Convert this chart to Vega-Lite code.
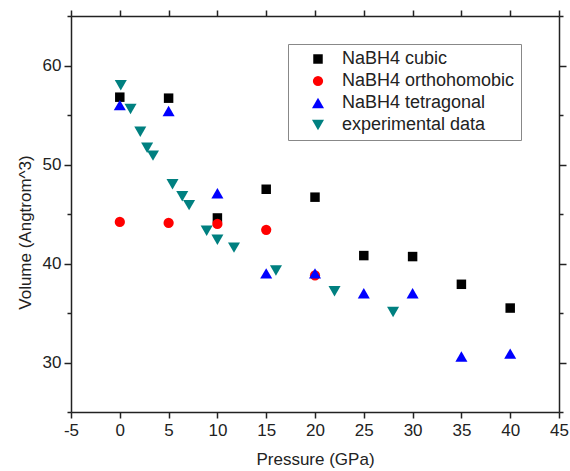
{
  "$schema": "https://vega.github.io/schema/vega-lite/v6.json",
  "width": 488,
  "height": 396,
  "autosize": {"type": "none"},
  "padding": {"left": 71, "top": 16, "right": 11, "bottom": 59},
  "background": "white",
  "config": {
    "font": "Liberation Sans",
    "view": {"stroke": null},
    "axis": {
      "grid": false,
      "domainColor": "#222",
      "domainWidth": 1.5,
      "tickColor": "#222",
      "tickWidth": 1.5,
      "labelColor": "#222",
      "titleColor": "#222",
      "labelFont": "Liberation Sans",
      "titleFont": "Liberation Sans",
      "labelFontSize": 17,
      "titleFontSize": 17,
      "titleFontWeight": "normal"
    },
    "legend": {
      "title": null, "orient": "none", "legendX": 217, "legendY": 28,
      "strokeColor": "#888", "fillColor": "white", "padding": 6,
      "symbolOffset": 15, "labelOffset": 15, "rowPadding": 4,
      "labelFontSize": 18, "labelColor": "#222", "labelFont": "Liberation Sans",
      "labelLimit": 300
    }
  },
  "data": {
    "values": [
      {"p": 0, "v": 56.8, "s": "NaBH4 cubic"},
      {"p": 5, "v": 56.7, "s": "NaBH4 cubic"},
      {"p": 10, "v": 44.6, "s": "NaBH4 cubic"},
      {"p": 15, "v": 47.5, "s": "NaBH4 cubic"},
      {"p": 20, "v": 46.7, "s": "NaBH4 cubic"},
      {"p": 25, "v": 40.8, "s": "NaBH4 cubic"},
      {"p": 30, "v": 40.7, "s": "NaBH4 cubic"},
      {"p": 35, "v": 37.9, "s": "NaBH4 cubic"},
      {"p": 40, "v": 35.5, "s": "NaBH4 cubic"},
      {"p": 0, "v": 44.2, "s": "NaBH4 orthohomobic"},
      {"p": 5, "v": 44.1, "s": "NaBH4 orthohomobic"},
      {"p": 10, "v": 44.0, "s": "NaBH4 orthohomobic"},
      {"p": 15, "v": 43.4, "s": "NaBH4 orthohomobic"},
      {"p": 20, "v": 38.8, "s": "NaBH4 orthohomobic"},
      {"p": 0, "v": 56.0, "s": "NaBH4 tetragonal"},
      {"p": 5, "v": 55.4, "s": "NaBH4 tetragonal"},
      {"p": 10, "v": 47.1, "s": "NaBH4 tetragonal"},
      {"p": 15, "v": 39.0, "s": "NaBH4 tetragonal"},
      {"p": 20, "v": 39.0, "s": "NaBH4 tetragonal"},
      {"p": 25, "v": 37.0, "s": "NaBH4 tetragonal"},
      {"p": 30, "v": 37.0, "s": "NaBH4 tetragonal"},
      {"p": 35, "v": 30.6, "s": "NaBH4 tetragonal"},
      {"p": 40, "v": 30.9, "s": "NaBH4 tetragonal"},
      {"p": 0.1, "v": 58.0, "s": "experimental data"},
      {"p": 1.1, "v": 55.6, "s": "experimental data"},
      {"p": 2.1, "v": 53.3, "s": "experimental data"},
      {"p": 2.8, "v": 51.7, "s": "experimental data"},
      {"p": 3.4, "v": 50.9, "s": "experimental data"},
      {"p": 5.4, "v": 48.0, "s": "experimental data"},
      {"p": 6.4, "v": 46.8, "s": "experimental data"},
      {"p": 7.1, "v": 45.9, "s": "experimental data"},
      {"p": 8.9, "v": 43.3, "s": "experimental data"},
      {"p": 10.0, "v": 42.4, "s": "experimental data"},
      {"p": 11.7, "v": 41.6, "s": "experimental data"},
      {"p": 16.0, "v": 39.3, "s": "experimental data"},
      {"p": 22.0, "v": 37.2, "s": "experimental data"},
      {"p": 28.0, "v": 35.1, "s": "experimental data"}
    ]
  },
  "layer": [
    {
      "mark": {"type": "point", "filled": true, "opacity": 1},
      "encoding": {
        "x": {
          "field": "p", "type": "quantitative",
          "scale": {"domain": [-5, 45], "nice": false, "zero": false},
          "axis": {"orient": "bottom", "title": "Pressure (GPa)", "values": [-5, 0, 5, 10, 15, 20, 25, 30, 35, 40, 45], "labelExpr": "datum.value + ''", "tickSize": 6, "labelPadding": 4, "titlePadding": 13, "labelFlush": false, "labelOverlap": false}
        },
        "y": {
          "field": "v", "type": "quantitative",
          "scale": {"domain": [25, 65], "nice": false, "zero": false},
          "axis": {
            "orient": "left", "title": "Volume (Angtrom^3)",
            "values": [25, 30, 35, 40, 45, 50, 55, 60, 65],
            "labelExpr": "datum.value % 10 === 0 ? datum.label : ''",
            "tickSize": {"condition": {"test": "datum.value % 10 === 0", "value": 7}, "value": 4},
            "labelPadding": 3, "titlePadding": 8, "titleY": 216, "labelFlush": false, "labelOverlap": false
          }
        },
        "color": {
          "field": "s", "type": "nominal",
          "scale": {"domain": ["NaBH4 cubic", "NaBH4 orthohomobic", "NaBH4 tetragonal", "experimental data"], "range": ["#000000", "#ff0000", "#0000ff", "#008080"]}
        },
        "shape": {
          "field": "s", "type": "nominal",
          "scale": {"domain": ["NaBH4 cubic", "NaBH4 orthohomobic", "NaBH4 tetragonal", "experimental data"], "range": ["square", "circle", "triangle-up", "triangle-down"]}
        },
        "size": {
          "field": "s", "type": "ordinal",
          "scale": {"type": "ordinal", "domain": ["NaBH4 cubic", "NaBH4 orthohomobic", "NaBH4 tetragonal", "experimental data"], "range": [90, 105, 145, 145]}
        }
      }
    },
    {
      "mark": {"type": "point", "opacity": 0},
      "encoding": {
        "x": {
          "field": "p", "type": "quantitative",
          "axis": {"orient": "top", "title": null, "labels": false, "values": [-5, 0, 5, 10, 15, 20, 25, 30, 35, 40, 45], "tickSize": 6}
        },
        "y": {
          "field": "v", "type": "quantitative",
          "axis": {
            "orient": "right", "title": null, "labels": false,
            "values": [25, 30, 35, 40, 45, 50, 55, 60, 65],
            "tickSize": {"condition": {"test": "datum.value % 10 === 0", "value": 7}, "value": 4}
          }
        }
      }
    }
  ],
  "resolve": {"axis": {"x": "independent", "y": "independent"}}
}
